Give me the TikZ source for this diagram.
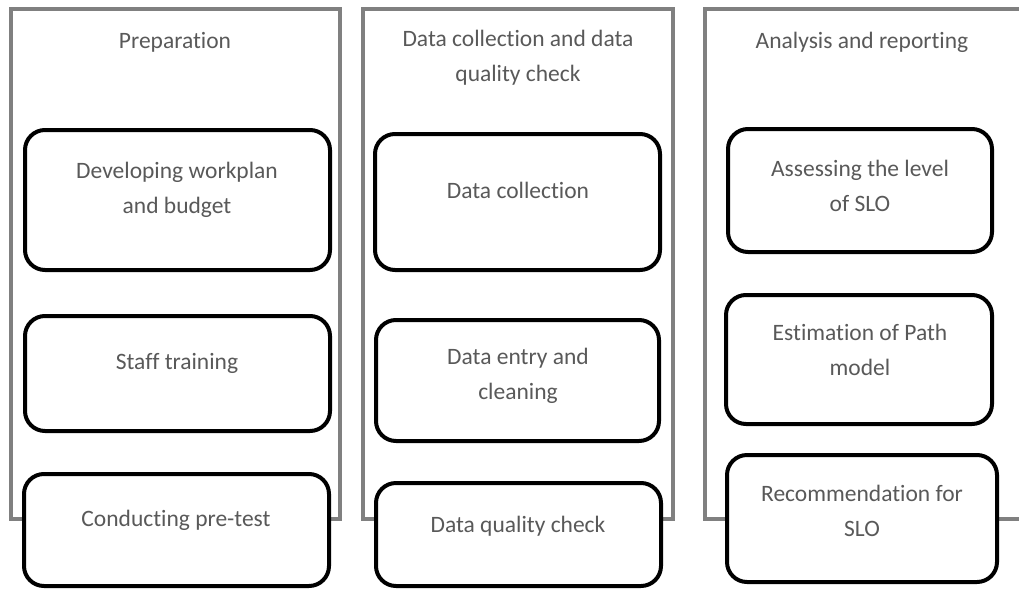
\documentclass[tikz,border=0pt]{standalone}
\usepackage{fontspec}
\setmainfont{Carlito}[Ligatures=NoCommon]
\definecolor{txtgray}{HTML}{595959}
\definecolor{colgray}{HTML}{808080}
\begin{document}
\begin{tikzpicture}[x=1pt,y=-1pt,
  colbox/.style={draw=colgray, line width=4pt},
  stepbox/.style={draw=black, fill=white, line width=4pt, rounded corners=20pt},
  lbl/.style={text=txtgray, align=center, inner sep=0pt, font=\fontsize{23.5}{35}\selectfont}]
\useasboundingbox (0,0) rectangle (1019,589);
\begin{scope}
\clip (0,0) rectangle (1019,589);
% columns
\draw[colbox] (11,9) rectangle (340,519);
\draw[colbox] (363,9) rectangle (673,519);
\draw[colbox] (705,9) rectangle (1040,519);
\node[lbl] (h1) at (175,42) {Preparation};
\node[lbl] (h2) at (518,58) {Data collection and data\\quality check};
\node[lbl] (h3) at (862,42) {Analysis and reporting};
% column 1 boxes
\draw[stepbox] (25,130) rectangle (330,270) coordinate (b1);
\draw[stepbox] (25,316) rectangle (330,431) coordinate (b2);
\draw[stepbox] (24,474) rectangle (329,586) coordinate (b3);
\node[lbl] (t1) at (177,190) {Developing workplan\\and budget};
\node[lbl] (t2) at (177,363) {Staff training};
\node[lbl] (t3) at (176,520) {Conducting pre-test};
% column 2 boxes
\draw[stepbox] (375,134) rectangle (660,270) coordinate (b4);
\draw[stepbox] (376,320) rectangle (659,441) coordinate (b5);
\draw[stepbox] (376,483) rectangle (661,586) coordinate (b6);
\node[lbl] (t4) at (518,190) {Data collection};
\node[lbl] (t5) at (518,376) {Data entry and\\cleaning};
\node[lbl] (t6) at (518,526) {Data quality check};
% column 3 boxes
\draw[stepbox] (728,129) rectangle (992,252) coordinate (b7);
\draw[stepbox] (726,295) rectangle (992,424) coordinate (b8);
\draw[stepbox] (727,455) rectangle (997,582) coordinate (b9);
\node[lbl] (t7) at (860,186) {Assessing the level\\of SLO};
\node[lbl] (t8) at (860,350) {Estimation of Path\\model};
\node[lbl] (t9) at (862,511) {Recommendation for\\SLO};
\end{scope}
\end{tikzpicture}
\end{document}
